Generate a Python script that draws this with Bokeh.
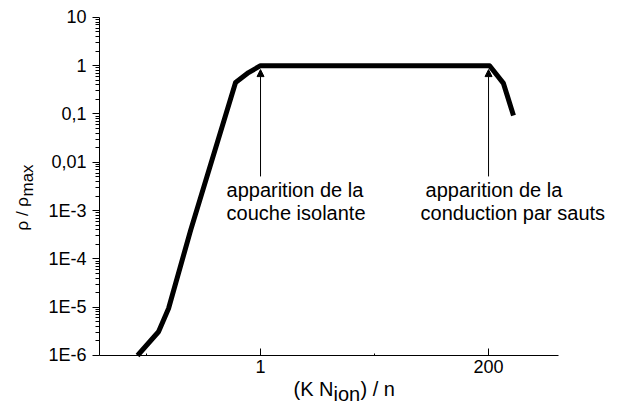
from math import pi
from bokeh.plotting import figure
from bokeh.models import FixedTicker, Label, Arrow, NormalHead
from bokeh.embed import file_html
from bokeh.resources import INLINE

# ---- data ----
x_vals = [0.0574, 0.0935, 0.118, 0.197, 0.56, 0.757, 1.0, 205.0, 283.0, 357.0]
rho_ratio = [1e-6, 3.1e-6, 9.4e-6, 3.9e-4, 0.45, 0.72, 1.0, 1.0, 0.43, 0.093]

x_major_ticks = [1, 200]
x_minor_ticks = [0.0707, 14.14]
x_tick_labels = ["1", "200"]
x_axis_bounds = (0.0237, 1016)

y_major_ticks = [1e-6, 1e-5, 1e-4, 1e-3, 1e-2, 1e-1, 1, 10]
y_tick_labels = ["1E-6", "1E-5", "1E-4", "1E-3", "0,01", "0,1", "1", "10"]
y_minor_ticks = [m * t for t in y_major_ticks[:-1] for m in range(2, 10)]
y_axis_bounds = (1e-6, 10)

arrow_x = [1, 200]
arrow_y_start = [5.1e-3, 5.1e-3]
arrow_y_end = [0.83, 0.83]

annot_lines_1 = ["apparition de la", "couche isolante"]
annot_lines_2 = ["apparition de la", "conduction par sauts"]
annot_y = [4.6e-3, 1.5e-3]

FONT = "Liberation Sans"
W, H = 623, 403

p = figure(width=W, height=H, x_axis_type="log", y_axis_type="log",
           x_range=(0.002377, 4603), y_range=(1.0144e-7, 22.38),
           output_backend="svg", toolbar_location=None,
           min_border=0)
p.title.visible = False
p.outline_line_color = None
p.xgrid.visible = False
p.ygrid.visible = False
p.background_fill_color = "white"
p.border_fill_color = "white"

p.line(x_vals, rho_ratio, line_width=5, line_color="black", line_join="round")

# axes (fixed inside the full-canvas frame so that annotations are not clipped)
xa = p.xaxis[0]
xa.fixed_location = y_axis_bounds[0]
xa.bounds = x_axis_bounds
xa.ticker = FixedTicker(ticks=x_major_ticks, minor_ticks=x_minor_ticks)
xa.major_label_overrides = {float(t): l for t, l in zip(x_major_ticks, x_tick_labels)}
xa.major_tick_in = 7
xa.major_tick_out = 0
xa.minor_tick_in = 2
xa.minor_tick_out = 0
xa.major_label_standoff = 5
xa.major_label_text_font = FONT
xa.major_label_text_font_size = "18px"
xa.major_label_text_color = "black"
xa.axis_line_color = "black"
xa.major_tick_line_color = "black"
xa.minor_tick_line_color = "black"

ya = p.yaxis[0]
ya.fixed_location = x_axis_bounds[0]
ya.bounds = y_axis_bounds
ya.ticker = FixedTicker(ticks=y_major_ticks, minor_ticks=y_minor_ticks)
ya.major_label_overrides = {float(t): l for t, l in zip(y_major_ticks, y_tick_labels)}
ya.major_tick_in = 0
ya.major_tick_out = 7
ya.minor_tick_in = 0
ya.minor_tick_out = 4
ya.major_label_standoff = 6
ya.major_label_text_font = FONT
ya.major_label_text_font_size = "18px"
ya.major_label_text_color = "black"
ya.axis_line_color = "black"
ya.major_tick_line_color = "black"
ya.minor_tick_line_color = "black"

# arrows
for xv, ys, ye in zip(arrow_x, arrow_y_start, arrow_y_end):
    p.add_layout(Arrow(x_start=xv, y_start=ys, x_end=xv, y_end=ye,
                       line_width=1, line_color="black",
                       end=NormalHead(size=7, fill_color="black",
                                      line_color="black", line_width=1)))

# annotation texts
for txt, yv in zip(annot_lines_1, annot_y):
    p.add_layout(Label(x=arrow_x[0], y=yv, x_offset=-34, text=txt,
                       text_font=FONT, text_font_size="20px",
                       text_baseline="top", text_color="black"))
offs2 = [-63, -68]
for txt, yv, off in zip(annot_lines_2, annot_y, offs2):
    p.add_layout(Label(x=arrow_x[1], y=yv, x_offset=off, text=txt,
                       text_font=FONT, text_font_size="20px",
                       text_baseline="top", text_color="black"))

# x-axis title: (K N_ion) / n   (screen units measured from frame bottom-left)
xt_parts = [("(K N", 293, 15), ("ion", 333, 10), (") / n", 360, 15)]
for txt, xx, yy in xt_parts:
    p.add_layout(Label(x=xx, y=yy, x_units="screen", y_units="screen",
                       text=txt, text_font=FONT, text_font_size="20px",
                       text_baseline="alphabetic", text_color="black"))

# y-axis title: rho / rho_max (rotated)
yt_parts = [("ρ / ρ", 22, 173), ("max", 27, 207)]
for txt, xx, yy in yt_parts:
    p.add_layout(Label(x=xx, y=yy, x_units="screen", y_units="screen",
                       text=txt, text_font=FONT, text_font_size="17px",
                       angle=pi / 2, text_baseline="alphabetic",
                       text_color="black"))

open("out.html", "w").write(file_html(p, INLINE))
